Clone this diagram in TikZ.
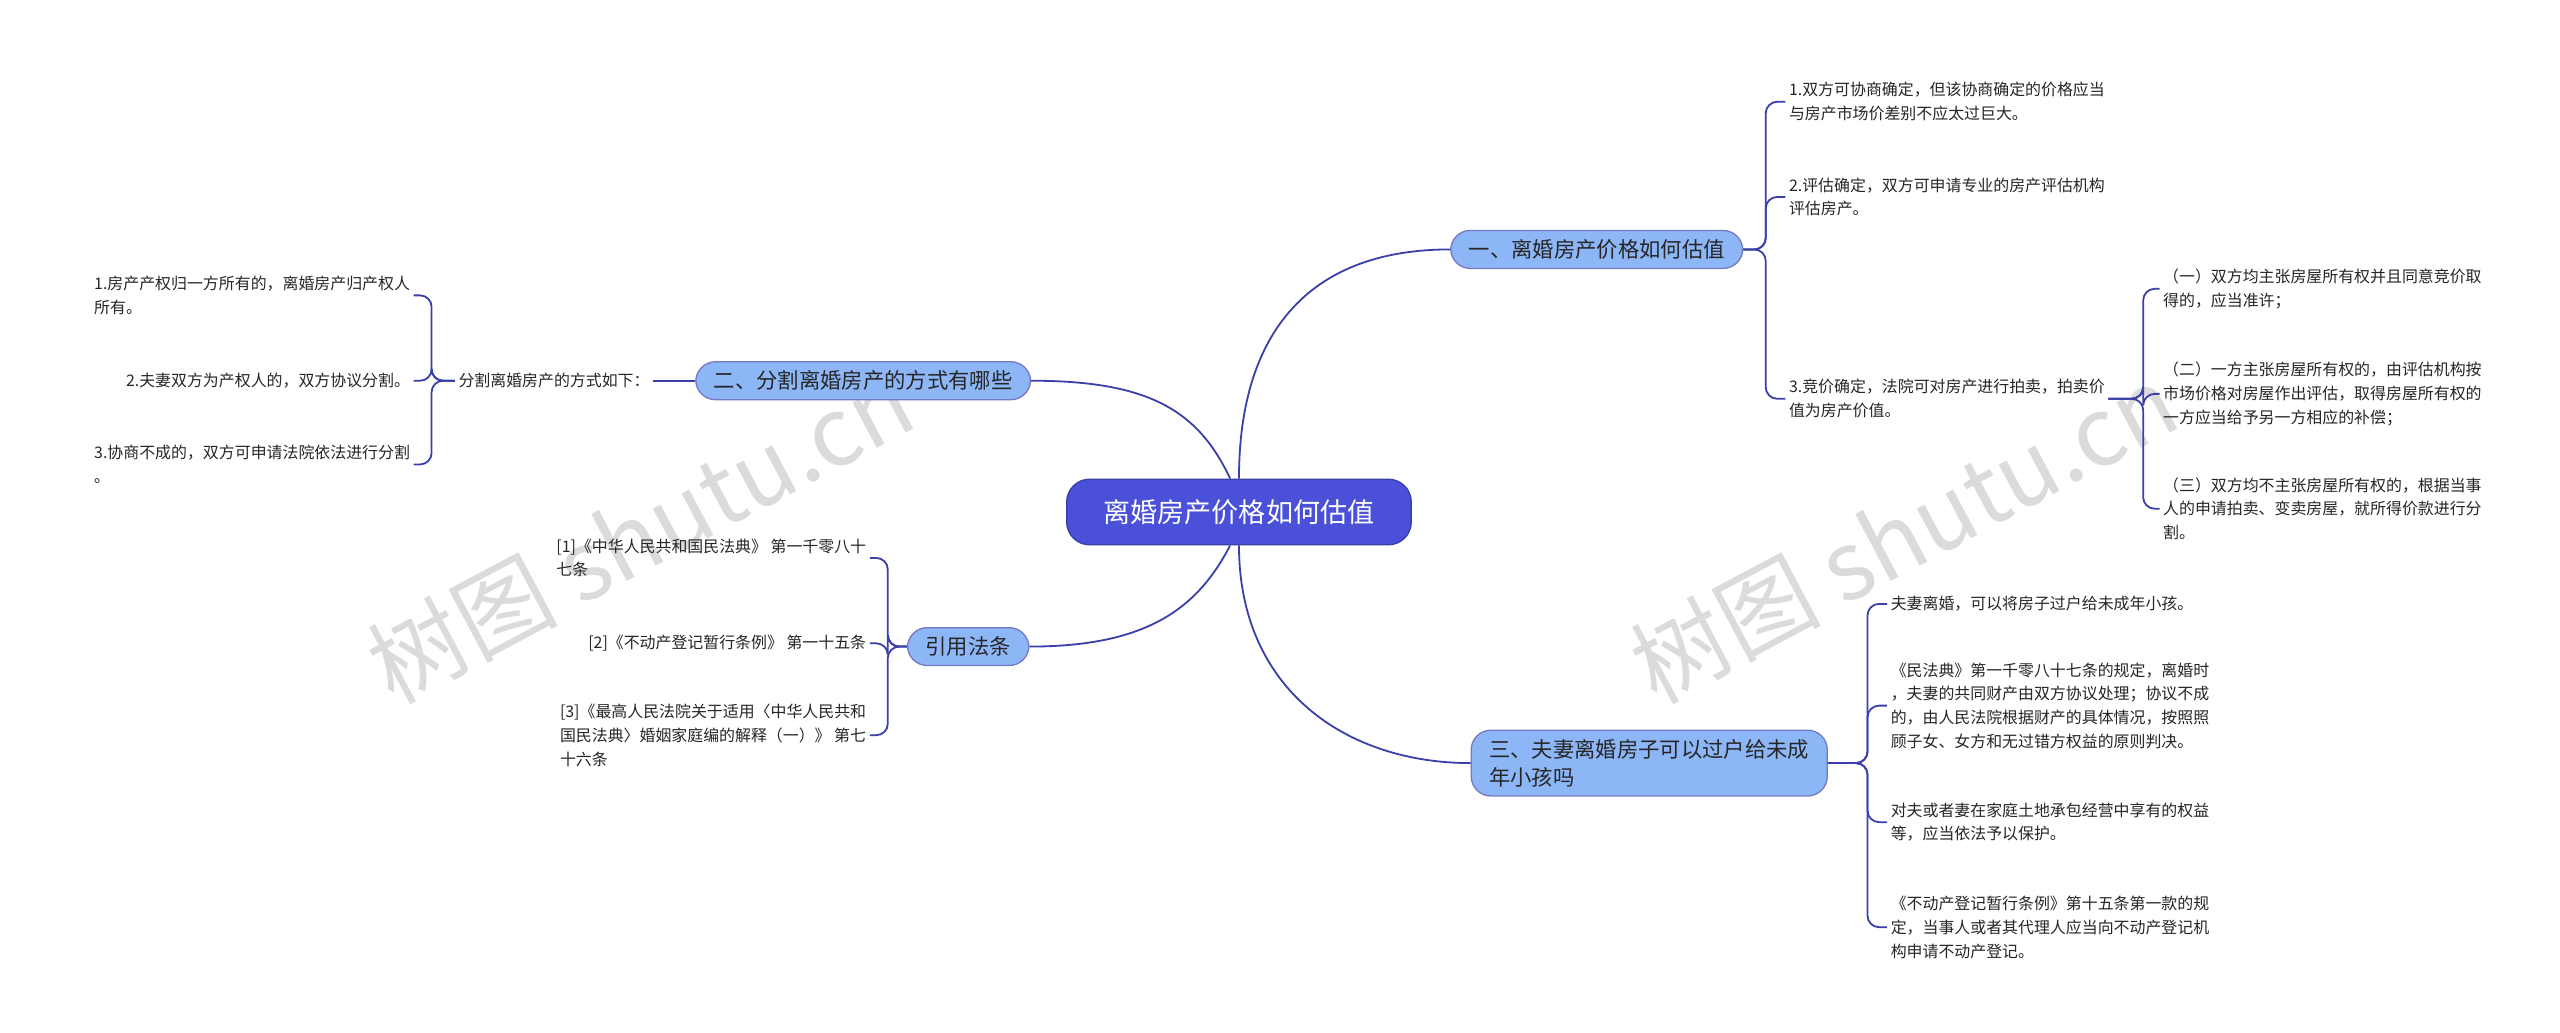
\documentclass[tikz,border=0pt]{standalone}
\usepackage{fontspec}
\setmainfont{Noto Sans CJK SC}
\begin{document}
\begin{tikzpicture}[x=1pt,y=-1pt,
  line/.style={draw=lk,line width=1.1pt},
  br/.style={line,rounded corners=7pt},
  leaf/.style={font=\fontsize{9.7}{14.5}\selectfont,align=left,inner sep=2pt,text=black!85},
  leafe/.style={leaf,anchor=east},
  leafw/.style={leaf,anchor=west},
  branch/.style={draw=lk!70,line width=0.8pt,fill=bfill,rounded corners=12pt,font=\fontsize{13}{17}\selectfont,text=black!85,inner xsep=11pt,inner ysep=5.5pt,align=left},
  wm/.style={text=black!14,font=\fontsize{58}{58}\selectfont,rotate=28}]
\definecolor{lk}{HTML}{3B3FA8}
\definecolor{bfill}{HTML}{8DB6F7}
\definecolor{cfill}{HTML}{4A50D8}
\useasboundingbox (0,0) rectangle (1560,629);
\fill[white] (0,0) rectangle (1560,629);
\node[wm] at (390,325) {树图 shutu.cn};
\node[wm] at (1160,325) {树图 shutu.cn};
% center
\node[draw=lk,line width=0.8pt,fill=cfill,rounded corners=14pt,text=white,font=\fontsize{16.5}{18}\selectfont,minimum width=210pt,minimum height=40pt] (c) at (755,312) {离婚房产价格如何估值};
% branches
\node[branch] (b1) at (973,152) {一、离婚房产价格如何估值};
\node[branch] (b3) at (1005,465) {三、夫妻离婚房子可以过户给未成\\年小孩吗};
\node[branch] (b2) at (526,232) {二、分割离婚房产的方式有哪些};
\node[branch] (b4) at (590,394) {引用法条};
\draw[line] (c.north) .. controls (755,200) and (800,152) .. (b1.west);
\draw[line] (c.south) .. controls (755,420) and (820,465) .. (b3.west);
\draw[line] (c.north west) ++(100,0) .. controls (730,250) and (700,232) .. (b2.east);
\draw[line] (c.south west) ++(100,0) .. controls (730,370) and (700,394) .. (b4.east);
% branch 1 leaves
\node[leafw] (l11) at (1088,62) {1.双方可协商确定，但该协商确定的价格应当\\与房产市场价差别不应太过巨大。};
\node[leafw] (l12) at (1088,120) {2.评估确定，双方可申请专业的房产评估机构\\评估房产。};
\node[leafw] (l13) at (1088,243) {3.竞价确定，法院可对房产进行拍卖，拍卖价\\值为房产价值。};
\foreach \n in {l11,l12,l13} \draw[br] (b1.east) -- (1076,152) |- (\n.west);
\node[leafw] (l131) at (1316,176) {（一）双方均主张房屋所有权并且同意竞价取\\得的，应当准许；};
\node[leafw] (l132) at (1316,240) {（二）一方主张房屋所有权的，由评估机构按\\市场价格对房屋作出评估，取得房屋所有权的\\一方应当给予另一方相应的补偿；};
\node[leafw] (l133) at (1316,310) {（三）双方均不主张房屋所有权的，根据当事\\人的申请拍卖、变卖房屋，就所得价款进行分\\割。};
\foreach \n in {l131,l132,l133} \draw[br] (l13.east) -- (1306,243) |- (\n.west);
% branch 3 leaves
\node[leafw] (l31) at (1150,368) {夫妻离婚，可以将房子过户给未成年小孩。};
\node[leafw] (l32) at (1150,430) {《民法典》第一千零八十七条的规定，离婚时\\，夫妻的共同财产由双方协议处理；协议不成\\的，由人民法院根据财产的具体情况，按照照\\顾子女、女方和无过错方权益的原则判决。};
\node[leafw] (l33) at (1150,501) {对夫或者妻在家庭土地承包经营中享有的权益\\等，应当依法予以保护。};
\node[leafw] (l34) at (1150,565) {《不动产登记暂行条例》第十五条第一款的规\\定，当事人或者其代理人应当向不动产登记机\\构申请不动产登记。};
\foreach \n in {l31,l32,l33,l34} \draw[br] (b3.east) -- (1138,465) |- (\n.west);
% branch 2
\node[leafe] (m2) at (398,232) {分割离婚房产的方式如下：};
\draw[line] (b2.west) -- (m2.east);
\node[leafe] (l21) at (252,180) {1.房产产权归一方所有的，离婚房产归产权人\\所有。};
\node[leafe] (l22) at (252,232) {2.夫妻双方为产权人的，双方协议分割。};
\node[leafe] (l23) at (252,283) {3.协商不成的，双方可申请法院依法进行分割\\。};
\foreach \n in {l21,l22,l23} \draw[br] (m2.west) -- (263,232) |- (\n.east);
% branch 4
\node[leafe] (l41) at (530,340) {[1]《中华人民共和国民法典》 第一千零八十\\七条};
\node[leafe] (l42) at (530,392) {[2]《不动产登记暂行条例》 第一十五条};
\node[leafe] (l43) at (530,448) {[3]《最高人民法院关于适用〈中华人民共和\\国民法典〉婚姻家庭编的解释（一）》 第七\\十六条};
\foreach \n in {l41,l42,l43} \draw[br] (b4.west) -- (541,394) |- (\n.east);
\end{tikzpicture}
\end{document}
